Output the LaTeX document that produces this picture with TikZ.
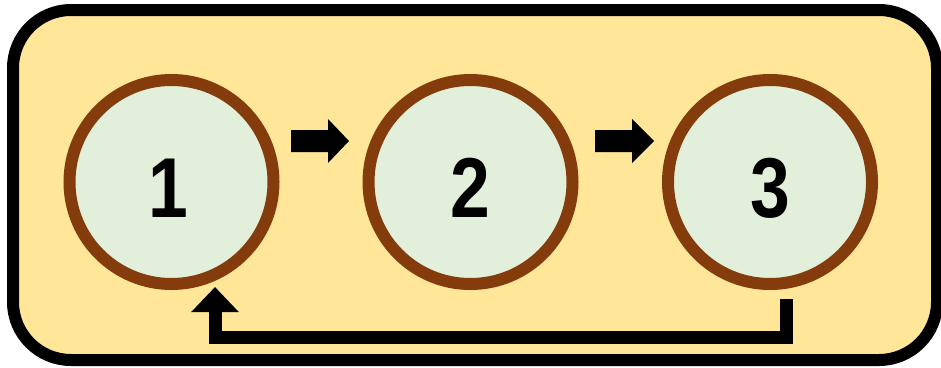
\documentclass[tikz,border=0pt]{standalone}
\usepackage{fontspec}
\setmainfont{Liberation Sans}
\usetikzlibrary{arrows.meta,calc}
\definecolor{panelfill}{HTML}{FFE699}
\definecolor{circfill}{HTML}{E2EFDA}
\definecolor{circline}{HTML}{843C0C}
\newcommand{\digitlabel}[1]{\scalebox{0.84}[1]{#1}}
\begin{document}
\begin{tikzpicture}[x=1pt,y=-1pt,
  stage/.style={circle,draw=circline,fill=circfill,line width=12pt,minimum size=204pt,inner sep=0pt,outer sep=0pt,
    font=\fontsize{85}{85}\selectfont\bfseries,text height=70pt,text depth=0pt},
  backarrow/.style={line width=13pt,line join=miter,-{Triangle[width=46pt,length=25pt]}}]
\useasboundingbox (0,0) rectangle (941,367);
\draw[line width=12pt,fill=panelfill,rounded corners=58pt] (13,10) rectangle (937,360);
\node[stage] (c1) at (171.5,182) {\hspace*{-6pt}\digitlabel{1}};
\node[stage] (c2) at (470.5,182) {\digitlabel{2}};
\node[stage] (c3) at (770,182) {\digitlabel{3}};
\coordinate (a1) at ($(c1.east)+(17.5,-41)$);
\coordinate (a2) at ($(c2.east)+(22.5,-41)$);
\fill (a1) -- ++(0,-11) -- ++(37,0) -- ++(0,-11) -- ++(21,22) -- ++(-21,22) -- ++(0,-11) -- ++(-37,0) -- cycle;
\fill (a2) -- ++(0,-11) -- ++(37,0) -- ++(0,-11) -- ++(22,22) -- ++(-22,22) -- ++(0,-11) -- ++(-37,0) -- cycle;
\coordinate (fbs) at ($(c3.south)+(16,15)$);
\coordinate (fbc) at ($(c3.south)+(16,53)$);
\coordinate (fbt) at ($(c1.south)+(43.5,3)$);
\draw[backarrow] (fbs) -- (fbc) -| (fbt);
\end{tikzpicture}
\end{document}
